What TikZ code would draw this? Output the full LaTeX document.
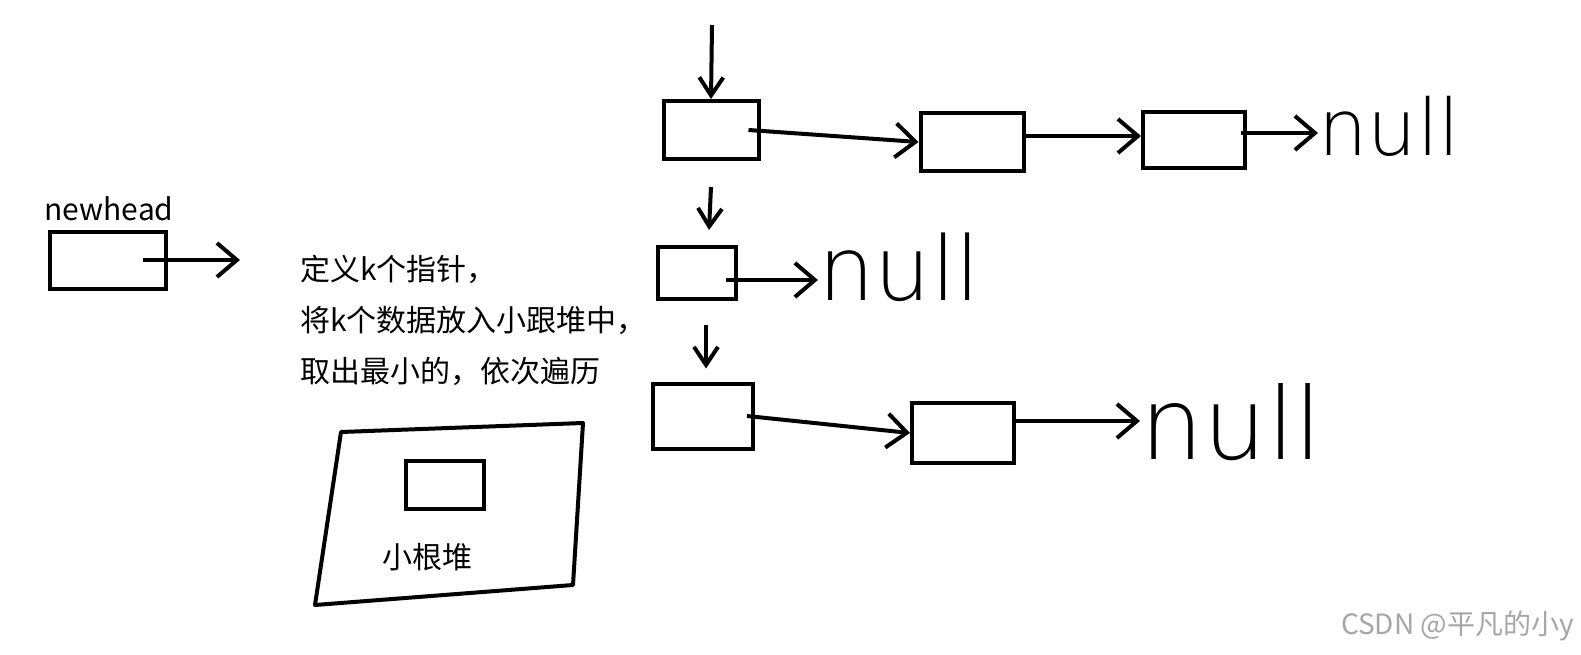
\documentclass[tikz,border=0pt]{standalone}
\usepackage{fontspec}
\newfontfamily\cjk{Noto Sans CJK SC}
\newfontfamily\handfont{DejaVu Sans ExtraLight}
\usetikzlibrary{arrows.meta}

\begin{document}
\begin{tikzpicture}[x=1pt, y=-1pt,
    box/.style={draw, line width=4pt, inner sep=0pt, minimum width=100pt, minimum height=58pt},
    arr/.style={-{Straight Barb[length=20pt, width=34pt]}, line width=4pt},
    darr/.style={-{Straight Barb[length=18pt, width=24pt]}, line width=4pt},
    txt/.style={font={\cjk\fontsize{30}{51}\selectfont}, inner sep=0pt},
    nul/.style={font={\handfont\fontsize{#1}{#1}\selectfont}, inner sep=0pt, anchor=base west},
    wm/.style={font={\cjk\fontsize{28}{32}\selectfont}, text=black!35, inner sep=0pt}
]
\useasboundingbox (0,0) rectangle (1581,655);

\node[txt] (nhlbl) at (109,209) {newhead};
\node[box, minimum width=116pt, minimum height=57pt] (nh) at (108,260) {};
\coordinate (nhend) at (240,260);
\draw[arr] ([xshift=-25pt]nh.east) -- (nhend);

\node[txt, anchor=west, align=left] (desc) at (300,320) {定义k个指针，\\将k个数据放入小跟堆中，\\取出最小的，依次遍历};

\coordinate (h1) at (341,432);
\coordinate (h2) at (583,423);
\coordinate (h3) at (573,585);
\coordinate (h4) at (315,605);
\draw[line width=4pt, line join=round] (h1) -- (h2) -- (h3) -- (h4) -- cycle;
\node[box, minimum width=78pt, minimum height=48pt] (inner) at (445,485) {};
\node[txt] (heaplbl) at (427,557) {小根堆};

\coordinate (top) at (712,25);
\node[box, minimum width=95pt] (b11) at (711,130) {};
\node[box, minimum width=103pt] (b12) at (972,142) {};
\node[box, minimum width=102pt, minimum height=56pt] (b13) at (1194,140) {};
\node[nul=78] (null1) at (1318,156) {null};
\draw[darr] (top) -- (b11.north);
\draw[arr] ([xshift=-12pt]b11.east) -- (b12.west);
\draw[arr] ([yshift=6pt]b12.east) -- ([yshift=6pt]b12.east -| b13.west);
\draw[arr] ([xshift=-6pt, yshift=7pt]b13.east) -- ([yshift=7pt]b13.east -| null1.west);

\node[box, minimum width=78pt, minimum height=52pt] (b21) at (697,273) {};
\node[nul=89] (null2) at (818,300) {null};
\draw[darr] ([yshift=-26pt]b11.south) -- ([xshift=12pt, yshift=15pt]b21.north);
\draw[arr] ([xshift=-12pt, yshift=-7pt]b21.east) -- ([yshift=-7pt]b21.east -| null2.west);

\node[box, minimum height=65pt] (b31) at (703,416) {};
\node[box, minimum width=102pt, minimum height=60pt] (b32) at (963,433) {};
\node[nul=100] (null3) at (1140,459) {null};
\draw[darr] ([xshift=9pt, yshift=-24pt]b21.south) -- ([xshift=3pt, yshift=13pt]b31.north);
\draw[arr] ([xshift=-8pt]b31.east) -- (b32.west);
\draw[arr] ([yshift=12pt]b32.east) -- ([yshift=12pt]b32.east -| null3.west);

\node[wm, anchor=east] (wmk) at (1574,626) {CSDN @平凡的小y};
\end{tikzpicture}
\end{document}
